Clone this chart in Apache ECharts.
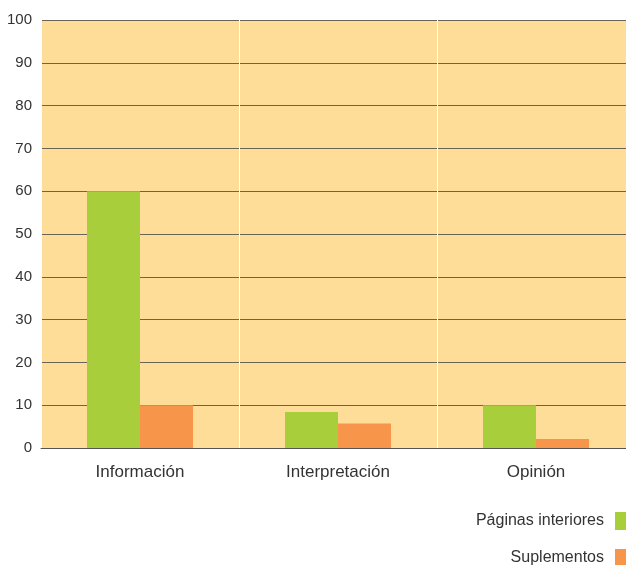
<!DOCTYPE html>
<html><head><meta charset="utf-8">
<script src="https://cdn.jsdelivr.net/npm/echarts@6/dist/echarts.min.js"></script>
<style>html,body{margin:0;padding:0;background:#fff;overflow:hidden}#c{width:635px;height:565px}</style>
</head><body><div id="c"></div>
<script>
var categories = ['Información', 'Interpretación', 'Opinión'];
var paginasInteriores = [60, 8.4, 10];
var suplementos = [10, 5.7, 2.1];
var seriesNames = ['Páginas interiores', 'Suplementos'];

var chart = echarts.init(document.getElementById('c'));
chart.setOption({
  animation: false,
  textStyle: { fontFamily: 'Liberation Sans, Arial, sans-serif' },
  grid: { left: 41, right: 0, top: 20, bottom: 117, show: true, backgroundColor: '#FDDD98', borderWidth: 0 },
  legend: {
    orient: 'vertical', right: 8, top: 512, align: 'right',
    padding: 0, height: 60,
    itemWidth: 12, itemHeight: 18, itemGap: 19,
    icon: 'rect',
    textStyle: { fontSize: 16, color: '#333', padding: [0, 6, 0, 0] },
    data: seriesNames
  },
  xAxis: {
    type: 'category', data: categories,
    axisLine: { lineStyle: { color: '#555', width: 1 } },
    axisTick: { show: false },
    axisLabel: { fontSize: 17, color: '#333', margin: 16 },
    splitLine: { show: true, lineStyle: { color: '#fff', width: 1 } }
  },
  yAxis: {
    type: 'value', min: 0, max: 100, interval: 10,
    axisLine: { show: false }, axisTick: { show: false },
    axisLabel: { fontSize: 15, color: '#333', margin: 9 },
    splitLine: { lineStyle: { color: '#6b6355', width: 1 } }
  },
  series: [
    { name: seriesNames[0], type: 'bar', data: paginasInteriores, barWidth: 53, barGap: '0%', itemStyle: { color: '#A8CE3B' } },
    { name: seriesNames[1], type: 'bar', data: suplementos, barWidth: 53, itemStyle: { color: '#F7964B' } }
  ]
});
</script></body></html>
